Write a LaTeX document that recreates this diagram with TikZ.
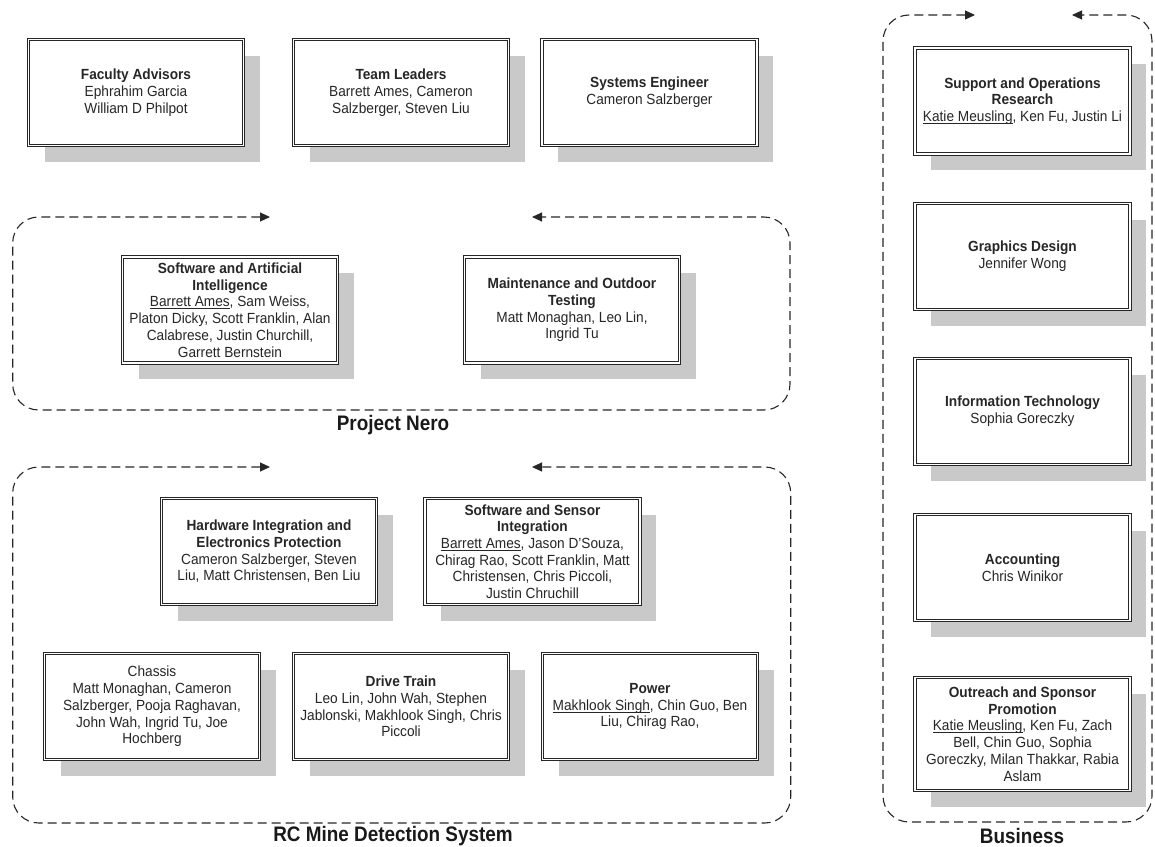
\documentclass[tikz,border=0pt]{standalone}
\usepackage{fontspec}
\setmainfont{Liberation Sans}
\newfontfamily\boxfont[FakeStretch=0.93]{Liberation Sans}
\newfontfamily\labelfont[FakeStretch=0.9]{Liberation Sans}
\usetikzlibrary{arrows.meta,shadows}
\tikzset{
  orgbox/.style={draw=black!85, line width=0.8pt, double=white, double distance=1.8pt,
    fill=white, minimum width=215pt, minimum height=106pt, inner sep=0pt, align=center,
    font=\boxfont\fontsize{14.7}{16.7}\selectfont, text=black!85,
    drop shadow={shadow xshift=16pt, shadow yshift=-16pt, fill=black!21, opacity=1}},
  region/.style={draw=black!85, line width=1.1pt, dash pattern=on 9pt off 5pt,
    rounded corners=26pt,
    {Triangle[length=10pt,width=9pt]}-{Triangle[length=10pt,width=9pt]}},
  grouplabel/.style={font=\labelfont\fontsize{21}{24}\selectfont\bfseries, text=black!90, inner sep=0pt}
}
\newcommand\ulname[1]{\leavevmode\setbox0\hbox{#1}\rlap{\rule[-2.2pt]{\wd0}{0.7pt}}\box0}
\begin{document}
\begin{tikzpicture}[x=1pt,y=-1pt]
\useasboundingbox (0,0) rectangle (1155,846);

% ---- region outlines ----
\coordinate (n1) at (270,217);   \coordinate (n2) at (12.7,217);
\coordinate (n3) at (12.7,410);  \coordinate (n4) at (790,410);
\coordinate (n5) at (790,217);   \coordinate (n6) at (532,217);
\draw[region] (n1) -- (n2) -- (n3) -- (n4) -- (n5) -- (n6);

\coordinate (r1) at (270,467);   \coordinate (r2) at (12.7,467);
\coordinate (r3) at (12.7,823);  \coordinate (r4) at (790.7,823);
\coordinate (r5) at (790.7,467); \coordinate (r6) at (532,467);
\draw[region] (r1) -- (r2) -- (r3) -- (r4) -- (r5) -- (r6);

\coordinate (b1) at (975,15);    \coordinate (b2) at (883,15);
\coordinate (b3) at (883,822);   \coordinate (b4) at (1152,822);
\coordinate (b5) at (1152,15);   \coordinate (b6) at (1072,15);
\draw[region] (b1) -- (b2) -- (b3) -- (b4) -- (b5) -- (b6);

% ---- top row ----
\node[orgbox] (faculty) at (136,92.5) {\textbf{Faculty Advisors}\\Ephrahim Garcia\\William D Philpot};
\node[orgbox] (leaders) at (401,92.5) {\textbf{Team Leaders}\\Barrett Ames, Cameron\\Salzberger, Steven Liu};
\node[orgbox] (syseng) at (649.5,92.5) {\textbf{Systems Engineer}\\Cameron Salzberger};

% ---- Project Nero ----
\node[orgbox] (softai) at (230,310) {\textbf{Software and Artificial}\\\textbf{Intelligence}\\\ulname{Barrett Ames}, Sam Weiss,\\Platon Dicky, Scott Franklin, Alan\\Calabrese,  Justin Churchill,\\Garrett Bernstein};
\node[orgbox] (maint) at (572,310) {\textbf{Maintenance and Outdoor}\\\textbf{Testing}\\Matt Monaghan,  Leo Lin,\\Ingrid Tu};
\node[grouplabel] (nerolabel) at (393,425) {Project Nero};

% ---- RC Mine Detection System ----
\node[orgbox] (hardware) at (269,551.5) {\textbf{Hardware Integration and}\\\textbf{Electronics Protection}\\Cameron Salzberger, Steven\\Liu, Matt Christensen, Ben Liu};
\node[orgbox] (swsensor) at (532.5,551.5) {\textbf{Software and Sensor}\\\textbf{Integration}\\\ulname{Barrett Ames}, Jason D’Souza,\\Chirag Rao, Scott Franklin, Matt\\Christensen, Chris Piccoli,\\Justin Chruchill};
\node[orgbox] (chassis) at (152,706.5) {Chassis\\Matt Monaghan, Cameron\\Salzberger, Pooja Raghavan,\\John Wah, Ingrid Tu, Joe\\Hochberg};
\node[orgbox] (drive) at (401,706.5) {\textbf{Drive Train}\\Leo Lin, John Wah, Stephen\\Jablonski, Makhlook Singh, Chris\\Piccoli};
\node[orgbox] (power) at (650,706.5) {\textbf{Power}\\\ulname{Makhlook Singh}, Chin Guo, Ben\\Liu, Chirag Rao,};
\node[grouplabel] (rclabel) at (393,836) {RC Mine Detection System};

% ---- Business ----
\node[orgbox] (support) at (1022.5,101) {\textbf{Support and Operations}\\\textbf{Research}\\\ulname{Katie Meusling}, Ken Fu, Justin Li};
\node[orgbox] (graphics) at (1022.5,256.5) {\textbf{Graphics Design}\\Jennifer Wong};
\node[orgbox] (infotech) at (1022.5,411.5) {\textbf{Information Technology}\\Sophia Goreczky};
\node[orgbox] (accounting) at (1022.5,567.5) {\textbf{Accounting}\\Chris Winikor};
\node[orgbox, minimum height=113pt] (outreach) at (1022.5,734) {\textbf{Outreach and Sponsor}\\\textbf{Promotion}\\\ulname{Katie Meusling}, Ken Fu, Zach\\Bell, Chin Guo,  Sophia\\Goreczky, Milan Thakkar, Rabia\\Aslam};
\node[grouplabel] (buslabel) at (1022,836) {Business};
\end{tikzpicture}
\end{document}
